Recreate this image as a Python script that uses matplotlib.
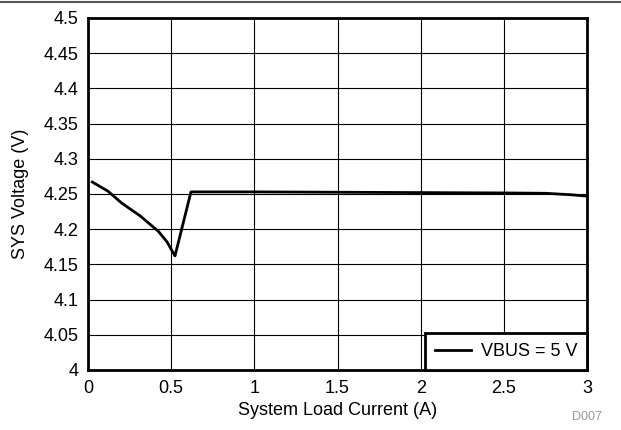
import matplotlib
matplotlib.use("Agg")
import matplotlib.pyplot as plt

# Data
load_current = [0.026, 0.12, 0.203, 0.313, 0.423, 0.475, 0.523, 0.619, 1.0, 1.5, 2.0, 2.5, 2.75, 2.9, 3.0]
sys_voltage = [4.267, 4.254, 4.237, 4.219, 4.197, 4.182, 4.162, 4.253, 4.253, 4.2525, 4.252, 4.2515, 4.251, 4.249, 4.247]

x_ticks = [0, 0.5, 1, 1.5, 2, 2.5, 3]
y_ticks = [4.0, 4.05, 4.1, 4.15, 4.2, 4.25, 4.3, 4.35, 4.4, 4.45, 4.5]
y_tick_labels = ['4', '4.05', '4.1', '4.15', '4.2', '4.25', '4.3', '4.35', '4.4', '4.45', '4.5']

plt.rcParams['font.family'] = ['Liberation Sans', 'DejaVu Sans']
fs = 13

fig = plt.figure(figsize=(6.21, 4.30), dpi=100)
ax = fig.add_axes([88 / 621, 1 - 370 / 430, (587 - 88) / 621, (370 - 18) / 430])

ax.plot(load_current, sys_voltage, color='black', linewidth=2, label='VBUS = 5 V')

ax.set_xlim(0, 3)
ax.set_ylim(4.0, 4.5)
ax.set_xticks(x_ticks)
ax.set_xticklabels([f"{t:g}" for t in x_ticks])
ax.set_yticks(y_ticks)
ax.set_yticklabels(y_tick_labels)
ax.tick_params(axis='both', length=0, labelsize=fs, pad=7)
ax.grid(True, color='black', linewidth=0.8)
for sp in ax.spines.values():
    sp.set_linewidth(2)

ax.set_xlabel('System Load Current (A)', fontsize=fs, labelpad=4)
ax.set_ylabel('SYS Voltage (V)', fontsize=fs, labelpad=10)

leg = ax.legend(loc='lower right', fontsize=fs, fancybox=False, framealpha=1,
                borderaxespad=0, handlelength=2, handletextpad=0.55, borderpad=0.55)
leg.get_frame().set_edgecolor('black')
leg.get_frame().set_linewidth(2)

# thin gray rule at the top and the figure id
fig.add_artist(plt.Line2D([0, 1], [1 - 1.5 / 430, 1 - 1.5 / 430], color='#555555', linewidth=1.5))
fig.text(602 / 621, 1 - 417 / 430, 'D007', color='#999999', fontsize=9, ha='right', va='center')

fig.savefig('out.png', dpi=100)
